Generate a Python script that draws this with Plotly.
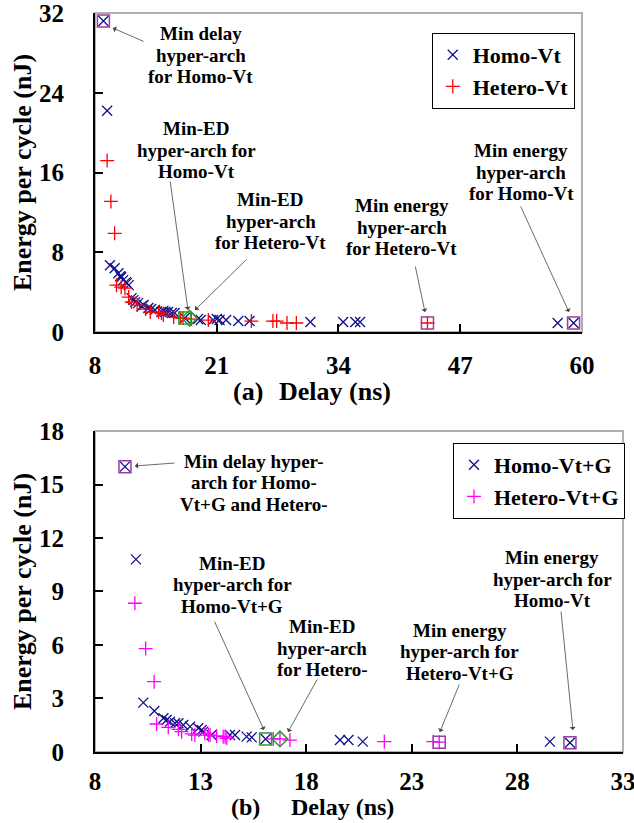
import plotly.graph_objects as go

# ---------------- Panel (a) data ----------------
homo_vt_delay = [8.9, 9.3, 9.6, 10.1, 10.5, 10.7, 10.8, 11.0, 11.3, 11.4, 11.6, 11.9, 12.1, 12.3, 12.6,
                 13.0, 13.2, 13.7, 14.0, 14.4, 15.1, 15.3, 15.5, 15.8, 16.2, 16.5, 17.6, 19.0, 19.3,
                 20.6, 21.0, 21.3, 22.0, 23.3, 24.5, 31.0, 34.5, 35.8, 36.3, 57.4, 59.1]
homo_vt_energy = [31.2, 22.2, 6.7, 6.4, 5.9, 5.6, 5.5, 5.2, 5.0, 4.9, 4.7, 3.4, 3.2, 3.0, 2.9,
                  2.6, 2.7, 2.4, 2.3, 2.2, 2.0, 2.1, 2.0, 2.0, 1.9, 1.9, 1.4, 1.3, 1.2,
                  1.2, 1.3, 1.2, 1.2, 1.1, 1.1, 1.0, 1.0, 1.0, 1.0, 0.9, 0.9]

hetero_vt_delay = [9.3, 9.7, 10.1, 10.3, 10.8, 11.2, 11.6, 11.9, 12.5, 13.4, 13.9, 14.8, 15.1, 15.3,
                   16.4, 17.1, 17.4, 18.3, 20.1, 24.7, 27.0, 27.4, 28.5, 29.5, 43.5]
hetero_vt_energy = [17.2, 13.1, 9.9, 4.7, 4.5, 4.4, 3.5, 3.0, 2.7, 2.3, 2.0, 2.0, 1.9, 1.7,
                    1.5, 1.4, 1.4, 1.3, 1.2, 1.1, 1.1, 1.1, 0.9, 0.9, 0.9]

a_extreme_delay = [8.9, 43.5, 59.1]          # min delay / min energy points
a_extreme_energy = [31.2, 0.9, 0.9]
a_min_ed_homo = ([17.6], [1.4])
a_min_ed_hetero = ([18.1], [1.4])

# ---------------- Panel (b) data ----------------
homo_g_delay = [9.42, 9.94, 10.29, 10.81, 11.24, 11.39, 11.55, 11.79, 11.95, 12.18, 12.5, 12.89,
                13.05, 13.13, 13.52, 14.39, 14.63, 15.18, 15.42, 16.08, 19.6, 20.0, 20.68, 29.54, 30.49]
homo_g_energy = [16.0, 10.8, 2.77, 2.30, 1.89, 1.79, 1.70, 1.61, 1.61, 1.51, 1.42, 1.33,
                 1.23, 1.14, 0.95, 0.95, 0.95, 0.86, 0.82, 0.73, 0.67, 0.67, 0.58, 0.58, 0.52]

hetero_g_delay = [9.89, 10.4, 10.8, 10.92, 11.47, 11.95, 12.1, 12.58, 12.73, 13.2, 13.37, 13.45,
                  13.76, 14.07, 14.16, 14.24, 16.44, 16.76, 17.23, 21.7, 24.02, 24.3]
hetero_g_energy = [8.34, 5.8, 3.94, 1.57, 1.38, 1.27, 1.14, 1.01, 0.95, 1.05, 0.95, 0.95,
                   0.90, 0.86, 0.86, 0.77, 0.73, 0.73, 0.67, 0.58, 0.58, 0.55]

b_extreme_delay = [9.42, 24.3, 30.49]
b_extreme_energy = [16.0, 0.55, 0.52]
b_min_ed_homo = ([16.08], [0.73])
b_min_ed_hetero = ([16.76], [0.73])

a_ticks_x = [8, 21, 34, 47, 60]
a_ticks_y = [0, 8, 16, 24, 32]
b_ticks_x = [8, 13, 18, 23, 28, 33]
b_ticks_y = [0, 3, 6, 9, 12, 15, 18]

NAVY = "#10108a"
RED = "#ff0000"
MAGENTA = "#ff00ff"
PURPLE = "#9a3fa0"
GREEN = "#2e9a2e"
FONT = "Liberation Serif"

fig = go.Figure()


def pts(x, y, name, color, symbol, size, xa, ya, legend=None, show=True, lw=1.3):
    fig.add_trace(go.Scatter(
        x=x, y=y, mode="markers", name=name, showlegend=show,
        marker=dict(symbol=symbol, size=size, color=color, line=dict(color=color, width=lw)),
        xaxis=xa, yaxis=ya, legend=legend))


# panel a
pts(homo_vt_delay, homo_vt_energy, "Homo-Vt", NAVY, "x-thin-open", 10, "x", "y", "legend")
pts(hetero_vt_delay, hetero_vt_energy, "Hetero-Vt", RED, "cross-thin-open", 10, "x", "y", "legend")
pts(a_extreme_delay, a_extreme_energy, "Extremes", PURPLE, "square-open", 12, "x", "y", show=False, lw=1.5)
pts(*a_min_ed_homo, "Min-ED Homo", GREEN, "square-open", 12, "x", "y", show=False, lw=1.5)
pts(*a_min_ed_hetero, "Min-ED Hetero", GREEN, "diamond-open", 12, "x", "y", show=False, lw=1.5)

# panel b
pts(homo_g_delay, homo_g_energy, "Homo-Vt+G", NAVY, "x-thin-open", 10, "x2", "y2", "legend2")
pts(hetero_g_delay, hetero_g_energy, "Hetero-Vt+G", MAGENTA, "cross-thin-open", 10, "x2", "y2", "legend2")
pts(b_extreme_delay, b_extreme_energy, "Extremes", PURPLE, "square-open", 12, "x2", "y2", show=False, lw=1.5)
pts(*b_min_ed_homo, "Min-ED Homo", GREEN, "square-open", 12, "x2", "y2", show=False, lw=1.5)
pts(*b_min_ed_hetero, "Min-ED Hetero", GREEN, "diamond-open", 12, "x2", "y2", show=False, lw=1.5)

tickfont = dict(family=FONT, size=25, color="black", weight="bold")
titlefont = dict(family=FONT, size=26, color="black", weight="bold")
bottomtitlefont = dict(family=FONT, size=24, color="black", weight="bold")


def xaxis(domain, rng, ticks, anchor, standoff):
    return dict(domain=domain, range=rng, tickvals=ticks, anchor=anchor, ticks="inside", ticklen=8,
                tickwidth=1.5, tickcolor="black", showline=True, linecolor="black", linewidth=2,
                showgrid=False, zeroline=False, tickfont=tickfont, ticklabelstandoff=standoff,
                automargin=False, ticklabeloverflow="allow")


def yaxis(domain, rng, ticks, anchor):
    return dict(domain=domain, range=rng, tickvals=ticks, anchor=anchor, ticks="inside", ticklen=8,
                tickwidth=1.5, tickcolor="black", showline=True, linecolor="black", linewidth=2,
                showgrid=False, zeroline=False, tickfont=tickfont, ticklabelstandoff=24,
                automargin=False, ticklabeloverflow="allow",
                title=dict(text="Energy per cycle (nJ)", font=titlefont, standoff=0))


legfont = dict(family=FONT, size=22, color="black", weight="bold")

fig.update_layout(
    width=634, height=823, margin=dict(l=0, r=0, t=0, b=0, autoexpand=False),
    paper_bgcolor="white", plot_bgcolor="white",
    xaxis=xaxis([0.1498, 0.918], [8, 60], a_ticks_x, "y", 10),
    yaxis=yaxis([0.5966, 0.9842], [0, 32], a_ticks_y, "x"),
    xaxis2=xaxis([0.1498, 0.9826], [8, 33], b_ticks_x, "y2", 6),
    yaxis2=yaxis([0.0863, 0.4763], [0, 18], b_ticks_y, "x2"),
    legend=dict(x=0.681, y=0.96, xanchor="left", yanchor="top", bordercolor="black", borderwidth=1,
                bgcolor="white", font=legfont, itemwidth=30, tracegroupgap=0),
    legend2=dict(x=0.7145, y=0.4617, xanchor="left", yanchor="top", bordercolor="black", borderwidth=1,
                 bgcolor="white", font=legfont, itemwidth=30),
    showlegend=True,
)

# gray frame (top/right)
for xr, yr in (("x domain", "y domain"), ("x2 domain", "y2 domain")):
    fig.add_shape(type="rect", xref=xr, yref=yr, x0=0, x1=1, y0=0, y1=1,
                  line=dict(color="#b0b0b0", width=2), layer="below")

annfont = dict(family=FONT, size=19, color="black", weight="bold")


def label(lines, x, y, xr, yr):
    n = len(lines)
    for i, t in enumerate(lines):
        fig.add_annotation(text=t, x=x, y=y, xref=xr, yref=yr, showarrow=False, font=annfont,
                           xanchor="center", yanchor="middle",
                           yshift=-(i - (n - 1) / 2) * 21.7)


def arrow(tail, head, xr, yr):
    fig.add_annotation(text="", x=head[0], y=head[1], ax=tail[0], ay=tail[1], xref=xr, yref=yr,
                       axref=xr, ayref=yr, showarrow=True, arrowhead=1, arrowsize=1.3,
                       arrowwidth=0.8, arrowcolor="#444444")


# panel a annotations
label(["Min delay", "hyper-arch", "for Homo-Vt"], 19.32, 27.78, "x", "y")
arrow((13.34, 29.09), (9.92, 30.49), "x", "y")
label(["Min-ED", "hyper-arch for", "Homo-Vt"], 18.89, 18.25, "x", "y")
arrow((16.01, 15.25), (17.93, 2.21), "x", "y")
label(["Min-ED", "hyper-arch", "for Hetero-Vt"], 26.79, 11.13, "x", "y")
arrow((24.34, 7.42), (18.68, 2.21), "x", "y")
label(["Min energy", "hyper-arch", "for Hetero-Vt"], 40.78, 10.53, "x", "y")
arrow((42.17, 6.72), (43.24, 2.0), "x", "y")
label(["Min energy", "hyper-arch", "for Homo-Vt"], 53.49, 16.05, "x", "y")
arrow((53.38, 12.74), (58.61, 2.0), "x", "y")

# panel b annotations
label(["Min delay hyper-", "arch for Homo-", "Vt+G and Hetero-"], 15.53, 15.09, "x2", "y2")
arrow((11.84, 16.21), (9.89, 16.04), "x2", "y2")
label(["Min-ED", "hyper-arch for", "Homo-Vt+G"], 14.49, 9.37, "x2", "y2")
arrow((13.63, 7.40), (16.0, 1.23), "x2", "y2")
label(["Min-ED", "hyper-arch", "for Hetero-"], 18.75, 5.83, "x2", "y2")
arrow((18.56, 4.15), (17.14, 1.12), "x2", "y2")
label(["Min energy", "hyper-arch for", "Hetero-Vt+G"], 25.28, 5.61, "x2", "y2")
arrow((25.28, 3.87), (24.33, 1.12), "x2", "y2")
label(["Min energy", "hyper-arch for", "Homo-Vt"], 29.64, 9.70, "x2", "y2")
arrow((30.06, 7.96), (30.63, 1.23), "x2", "y2")


def paper_text(text, px, py, font):
    fig.add_annotation(text=text, x=px / 634, y=1 - py / 823, xref="paper", yref="paper",
                       xanchor="center", yanchor="middle", showarrow=False, font=font)


# x-axis titles with panel tags
paper_text("(a)", 248, 391, titlefont)
paper_text("Delay (ns)", 335, 391, titlefont)
paper_text("(b)", 245, 807, bottomtitlefont)
paper_text("Delay (ns)", 342, 807, bottomtitlefont)

fig.write_html("out.html")
